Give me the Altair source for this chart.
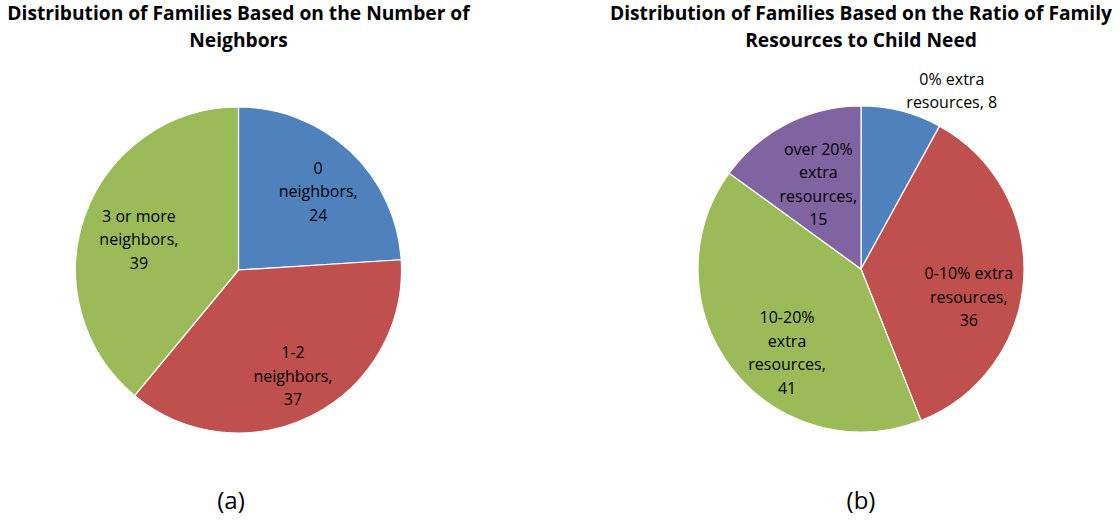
import altair as alt
import pandas as pd

# ---- data -------------------------------------------------------------
left_categories = ["0 neighbors", "1-2 neighbors", "3 or more neighbors"]
left_values = [24, 37, 39]
left_labels = ["0\nneighbors,\n24", "1-2\nneighbors,\n37", "3 or more\nneighbors,\n39"]
left_title = "Distribution of Families Based on the Number of\nNeighbors"

right_categories = ["0% extra resources", "0-10% extra resources",
                    "10-20% extra resources", "over 20% extra resources"]
right_values = [8, 36, 41, 15]
right_labels = ["0% extra\nresources, 8", "0-10% extra\nresources,\n36",
                "10-20%\nextra\nresources,\n41", "over 20%\nextra\nresources,\n15"]
right_title = "Distribution of Families Based on the Ratio of Family\nResources to Child Need"

panel_tags = ["(a)", "(b)"]

colors = ["#4F81BD", "#C0504D", "#9BBB59", "#8064A2"]
FONT = "Open Sans"
LH = 23.5


def frame(cats, vals, labels):
    return pd.DataFrame({"idx": list(range(len(cats))), "category": cats,
                         "value": vals, "label": labels})


left_df = frame(left_categories, left_values, left_labels)
right_df = frame(right_categories, right_values, right_labels)


def arc_layer(df, cats, cx, cy, r):
    return alt.Chart(df).mark_arc(outerRadius=r, stroke="white", strokeWidth=1.2).encode(
        theta=alt.Theta("value:Q", stack=True),
        order=alt.Order("idx:Q"),
        color=alt.Color("category:N", legend=None,
                        scale=alt.Scale(domain=cats, range=colors[:len(cats)])),
        x=alt.value(cx), y=alt.value(cy),
    )


def label_layer(df, labels, cx, cy, k, r, dx=0, dy=0):
    n = labels[k].count("\n") + 1
    return alt.Chart(df).mark_text(
        radius=r, dx=dx, dy=dy - (n - 1) * LH / 2, font=FONT, fontSize=16,
        lineBreak="\n", lineHeight=LH, align="center", baseline="middle", color="black"
    ).encode(
        theta=alt.Theta("value:Q", stack=True),
        order=alt.Order("idx:Q"),
        text=alt.condition(f"datum.idx == {k}", alt.Text("label:N"), alt.value("")),
        x=alt.value(cx), y=alt.value(cy),
    )


def text_layer(txt, cx, cy, size, bold, lh=27):
    n = txt.count("\n") + 1
    return alt.Chart(pd.DataFrame({"t": [txt]})).mark_text(
        font=FONT, fontSize=size, fontWeight="bold" if bold else "normal",
        lineBreak="\n", lineHeight=lh, align="center", baseline="middle", color="black",
        dy=-(n - 1) * lh / 2
    ).encode(text="t:N", x=alt.value(cx), y=alt.value(cy))


LCX, LCY, RCX, RCY, R = 238.5, 270, 861, 269, 163

layers = [
    arc_layer(left_df, left_categories, LCX, LCY, R),
    label_layer(left_df, left_labels, LCX, LCY, 0, 112, dx=3, dy=4),
    label_layer(left_df, left_labels, LCX, LCY, 1, 120),
    label_layer(left_df, left_labels, LCX, LCY, 2, 108, dx=2, dy=7),
    arc_layer(right_df, right_categories, RCX, RCY, R),
    label_layer(right_df, right_labels, RCX, RCY, 0, 180, dx=46, dy=-3),
    label_layer(right_df, right_labels, RCX, RCY, 1, 108, dx=0, dy=22),
    label_layer(right_df, right_labels, RCX, RCY, 2, 105, dx=9, dy=20),
    label_layer(right_df, right_labels, RCX, RCY, 3, 94),
    text_layer(left_title, LCX, 27.5, 19.2, True),
    text_layer(right_title, RCX, 27.5, 19.2, True),
    text_layer(panel_tags[0], 231, 502, 24, False),
    text_layer(panel_tags[1], RCX, 502, 24, False),
]

chart = alt.layer(*layers).resolve_scale(
    theta="independent", color="independent"
).properties(
    width=1120, height=522, padding=0,
    autosize=alt.AutoSizeParams(type="none"), background="white"
).configure_view(stroke=None)

chart.save("out.html", embed_options={"renderer": "svg", "actions": False})
